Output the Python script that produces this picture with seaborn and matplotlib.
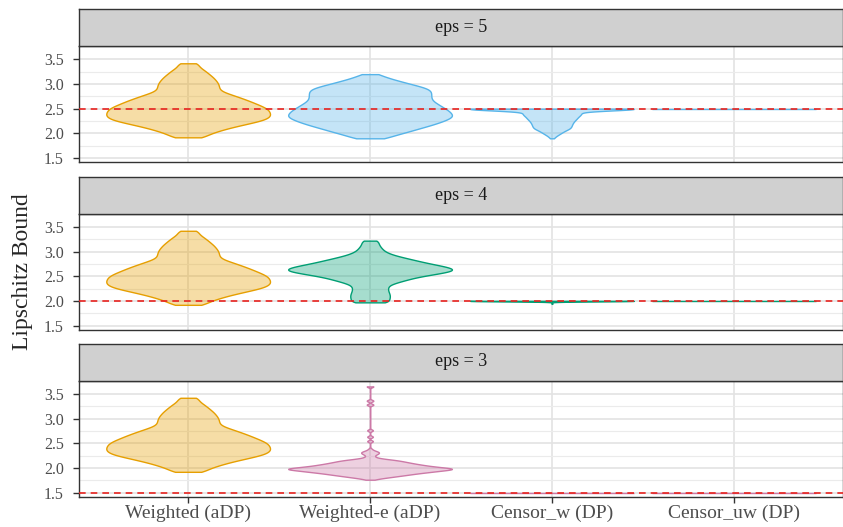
import numpy as np
import seaborn as sns
import matplotlib.pyplot as plt
from matplotlib.colors import to_rgba

# Categories and facets
methods = ["Weighted (aDP)", "Weighted-e (aDP)", "Censor_w (DP)", "Censor_uw (DP)"]
eps_levels = [5, 4, 3]
bound = [2.5, 2.0, 1.5]          # dashed reference line per eps

# Lipschitz bounds as (value, count) tables
weighted_y = [1.92, 1.97, 2.02, 2.07, 2.12, 2.17, 2.22, 2.27, 2.32, 2.37, 2.42,
              2.47, 2.52, 2.57, 2.62, 2.67, 2.72, 2.77, 2.82, 2.87, 2.92, 2.97,
              3.02, 3.07, 3.12, 3.17, 3.22, 3.27, 3.32, 3.37, 3.42]
weighted_n = [17, 19, 26, 34, 43, 54, 65, 76, 81, 83, 82,
              81, 78, 72, 66, 60, 53, 46, 38, 32, 31, 31,
              30, 28, 26, 23, 20, 17, 13, 10, 11]

we5_y = [1.90, 1.95, 2.00, 2.05, 2.10, 2.15, 2.20, 2.25, 2.30, 2.35,
         2.40, 2.45, 2.50, 2.55, 2.60, 2.65, 2.70, 2.75, 2.80, 2.85,
         2.90, 2.95, 3.00, 3.05, 3.10, 3.15, 3.20]
we5_n = [16, 22, 31, 40, 48, 57, 65, 72, 78, 82,
         80, 78, 74, 70, 66, 62, 60, 60, 60, 60,
         58, 50, 40, 31, 22, 14, 9]

cw5_y = [1.90, 1.95, 2.00, 2.05, 2.10, 2.15, 2.20, 2.25, 2.30, 2.35, 2.40, 2.45, 2.50]
cw5_n = [2, 5, 10, 14, 21, 22, 23, 25, 28, 30, 35, 25, 150]

cu5_y = [2.50]
cu5_n = [100]

we4_y = [1.97, 2.02, 2.07, 2.12, 2.17, 2.22, 2.27, 2.32, 2.37, 2.42,
         2.47, 2.52, 2.57, 2.62, 2.67, 2.72, 2.77, 2.82, 2.87, 2.92,
         2.97, 3.02, 3.07, 3.12, 3.17, 3.22]
we4_n = [19, 18, 19, 19, 18, 17, 17, 18, 25, 34,
         42, 55, 70, 82, 78, 66, 54, 44, 34, 24,
         17, 13, 11, 9, 8, 8]

cw4_y = [1.94, 2.00]
cw4_n = [1, 200]

cu4_y = [2.00]
cu4_n = [100]

we3_y = [1.76, 1.78, 1.80, 1.82, 1.84, 1.86, 1.88, 1.90, 1.92, 1.94,
         1.96, 1.98, 2.00, 2.02, 2.04, 2.06, 2.08, 2.10, 2.12, 2.14,
         2.16, 2.18, 2.20, 2.22, 2.24, 2.26, 2.28, 2.30, 2.32, 2.34,
         2.36, 2.38, 2.40, 2.54, 2.63, 2.76, 3.28, 3.36, 3.65]
we3_n = [4, 8, 15, 22, 29, 36, 42, 50, 58, 66,
         75, 82, 74, 64, 56, 50, 44, 39, 34, 30,
         24, 15, 8, 5, 4, 5, 7, 9, 9, 6,
         3, 2, 1, 6, 6, 6, 7, 7, 7]

cw3_y = [1.50]
cw3_n = [100]
cu3_y = [1.50]
cu3_n = [100]

# kernel bandwidth (in y units) per violin
bw = {
    5: [0.045, 0.045, 0.035, None],
    4: [0.045, 0.04, 0.01, None],
    3: [0.045, 0.018, None, None],
}
tables = {
    5: [(weighted_y, weighted_n), (we5_y, we5_n), (cw5_y, cw5_n), (cu5_y, cu5_n)],
    4: [(weighted_y, weighted_n), (we4_y, we4_n), (cw4_y, cw4_n), (cu4_y, cu4_n)],
    3: [(weighted_y, weighted_n), (we3_y, we3_n), (cw3_y, cw3_n), (cu3_y, cu3_n)],
}
orange = "#E69F00"
row_colors = {5: "#56B4E9", 4: "#009E73", 3: "#CC79A7"}

sns.set_theme(style="white")
plt.rcParams["font.family"] = ["Liberation Serif", "DejaVu Serif"]

W, H = 843, 527
fig = plt.figure(figsize=(W / 100, H / 100), dpi=100)

left, pw = 79, 764
strip_h, panel_h = 37, 116
strip_tops = [9, 176.5, 343.5]
border = "#333333"

for r, eps in enumerate(eps_levels):
    st = strip_tops[r]
    pt = st + strip_h
    ax = fig.add_axes([left / W, 1 - (pt + panel_h) / H, pw / W, panel_h / H])
    sax = fig.add_axes([left / W, 1 - pt / H, pw / W, strip_h / H])

    for j, (levels, counts) in enumerate(tables[eps]):
        col = orange if j == 0 else row_colors[eps]
        vals = np.repeat(levels, counts)
        if len(levels) == 1:
            # a single repeated value: the violin collapses to a flat line
            ax.hlines(levels[0], j - 0.45, j + 0.45, colors=col, lw=1, zorder=3)
            continue
        n0 = len(ax.collections)
        sns.violinplot(
            x=[methods[j]] * len(vals), y=vals, order=methods, ax=ax,
            cut=0, density_norm="width", width=0.9, inner=None,
            bw_method=bw[eps][j] / np.std(vals, ddof=1),
            color=col, saturation=1, linewidth=1, gridsize=400,
        )
        for c in ax.collections[n0:]:
            c.set_facecolor(to_rgba(col, 0.35))
            c.set_edgecolor(col)
            c.set_linewidth(1.0)
            c.set_zorder(3)

    ax.axhline(bound[r], color="#E8231F", ls=(0, (4, 3)), lw=1.2, zorder=5)

    ax.set_xlim(-0.6, 3.6)
    ax.set_ylim(1.42, 3.77)
    ax.set_yticks([1.5, 2.0, 2.5, 3.0, 3.5])
    ax.set_yticklabels(["1.5", "2.0", "2.5", "3.0", "3.5"])
    ax.set_yticks([1.75, 2.25, 2.75, 3.25], minor=True)
    ax.set_xticks(range(len(methods)))
    ax.set_axisbelow(True)
    ax.grid(which="major", color="#E3E3E3", lw=1.2)
    ax.grid(which="minor", axis="y", color="#EBEBEB", lw=0.8)
    ax.set_xlabel("")
    ax.set_ylabel("")
    for s in ax.spines.values():
        s.set_color(border)
        s.set_linewidth(1.0)
    ax.tick_params(axis="y", which="major", left=True, length=4, width=1,
                   color=border, labelsize=11.5, labelcolor="#4D4D4D", pad=7)
    ax.tick_params(axis="y", which="minor", left=False)
    if r == len(eps_levels) - 1:
        ax.set_xticklabels(methods)
        ax.tick_params(axis="x", bottom=True, length=4, width=1, color=border,
                       labelsize=14, labelcolor="#4D4D4D", pad=2)
    else:
        ax.set_xticklabels([])
        ax.tick_params(axis="x", bottom=False, length=0)

    sax.set_facecolor("#D0D0D0")
    sax.set_xticks([])
    sax.set_yticks([])
    for s in sax.spines.values():
        s.set_color(border)
        s.set_linewidth(1.0)
    sax.text(0.5, 0.5, f"eps = {eps}", transform=sax.transAxes, ha="center",
             va="center", fontsize=13, color="#1A1A1A")

fig.text(23 / W, 1 - 272 / H, "Lipschitz Bound", rotation=90, ha="center",
         va="center", fontsize=17)

fig.savefig("out.png", dpi=100)
